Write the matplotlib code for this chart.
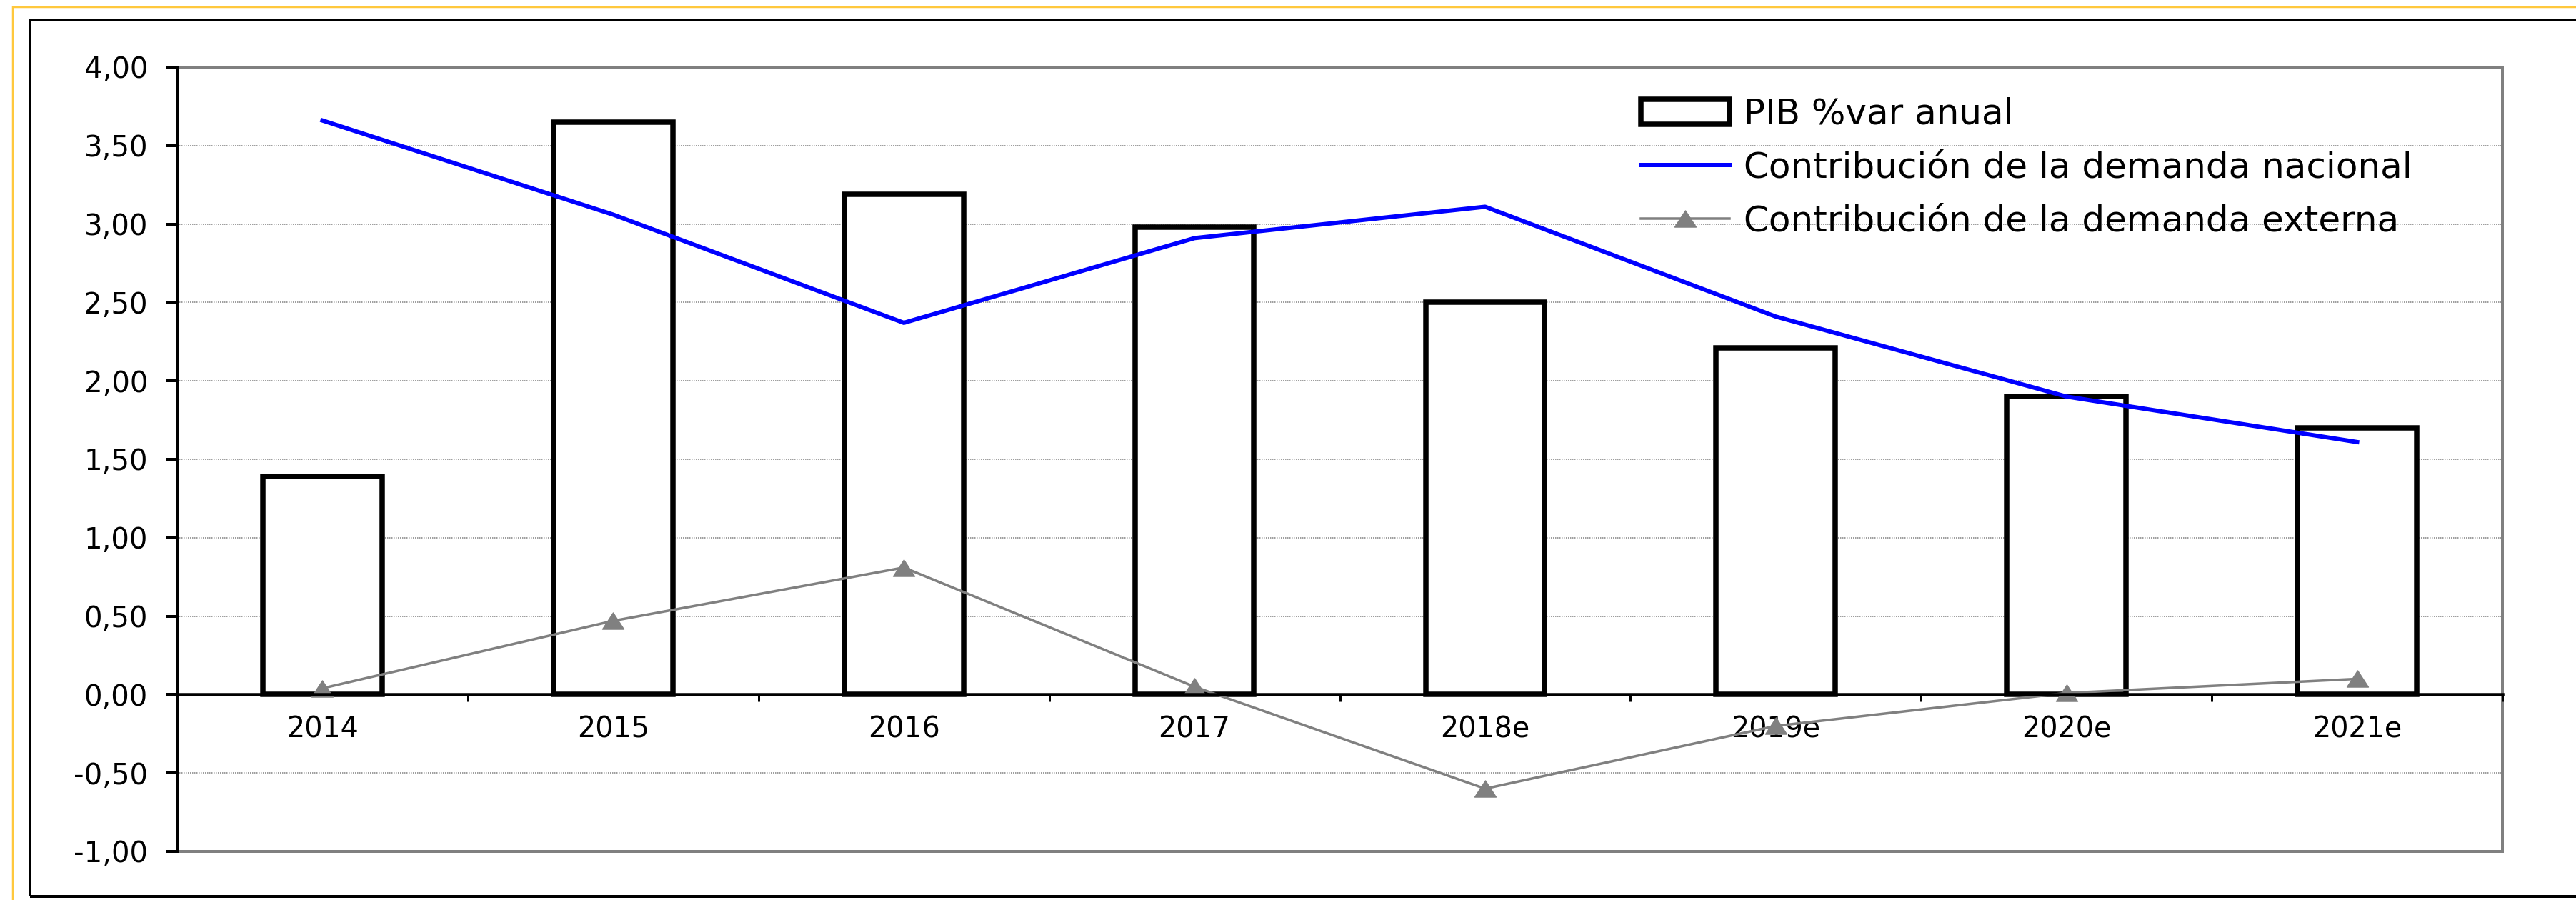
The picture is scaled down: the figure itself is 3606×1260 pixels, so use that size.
"""PIB y contribuciones de la demanda, 2014-2021e"""

import matplotlib
matplotlib.use("Agg")
import matplotlib.pyplot as plt
import numpy as np
from matplotlib.patches import Rectangle
from matplotlib.path import Path
from matplotlib.ticker import FixedLocator, FuncFormatter, MultipleLocator

years = ["2014", "2015", "2016", "2017", "2018e", "2019e", "2020e", "2021e"]
pib = [1.39, 3.65, 3.19, 2.98, 2.50, 2.21, 1.90, 1.70]
demanda_nacional = [3.66, 3.06, 2.37, 2.91, 3.11, 2.41, 1.90, 1.61]
demanda_externa = [0.04, 0.47, 0.81, 0.05, -0.60, -0.20, 0.01, 0.10]

W, H = 3606, 1260
PX = 0.72  # points per pixel at dpi 100

plt.rcParams["font.family"] = ["DejaVu Sans"]

fig = plt.figure(figsize=(W / 100, H / 100), dpi=100)

# outer frames (yellow + black), cut by the right/bottom image edge
fig.patches.append(Rectangle((18 / W, -0.1), 1.2, 1 - 10 / H + 0.1, transform=fig.transFigure,
                             fill=False, ec="#FFC83D", lw=2.5 * PX, zorder=0))
fig.patches.append(Rectangle((42 / W, 1 - 1255 / H), 1.2, (1255 - 28) / H, transform=fig.transFigure,
                             fill=False, ec="black", lw=4 * PX, zorder=0))

ax = fig.add_axes([248 / W, 1 - 1192 / H, (3503 - 248) / W, (1192 - 94) / H])
x = np.arange(len(years))

bars = ax.bar(x, pib, width=0.41, color="white", edgecolor="black", linewidth=7.5 * PX,
              label="PIB %var anual", zorder=3)
(nac,) = ax.plot(x, demanda_nacional, color="#0000FF", linewidth=6 * PX,
                 label="Contribución de la demanda nacional", zorder=4)

tri = Path([(-1.3, -1), (1.3, -1), (0, 1), (-1.3, -1)],
           [Path.MOVETO, Path.LINETO, Path.LINETO, Path.CLOSEPOLY])
(ext,) = ax.plot(x, demanda_externa, color="#808080", linewidth=3.5 * PX, marker=tri,
                 markersize=30 * PX, markerfacecolor="#808080", markeredgecolor="#808080",
                 label="Contribución de la demanda externa", zorder=5)

ax.set_xlim(-0.5, len(years) - 0.5)
ax.set_ylim(-1, 4)

# plot area border in gray
ax.add_patch(Rectangle((0, 0), 1, 1, transform=ax.transAxes, fill=False,
                       ec="#808080", lw=4 * PX, zorder=1, clip_on=False))
for s in ["top", "right"]:
    ax.spines[s].set_visible(False)
ax.spines["left"].set_linewidth(4 * PX)
ax.spines["left"].set_zorder(6)
ax.spines["bottom"].set_position(("data", 0))
ax.spines["bottom"].set_linewidth(4.5 * PX)
ax.spines["bottom"].set_zorder(6)

ax.yaxis.set_major_locator(MultipleLocator(0.5))
ax.yaxis.set_major_formatter(FuncFormatter(lambda v, p: f"{v:.2f}".replace(".", ",")))
ax.tick_params(axis="y", direction="out", length=16 * PX, width=4 * PX,
               pad=25 * PX, labelsize=29)
ax.grid(axis="y", color="#808080", linestyle=(0, (1, 1)), linewidth=1.5 * PX, zorder=0)

ax.set_xticks(x)
ax.set_xticklabels(years)
ax.xaxis.set_minor_locator(FixedLocator(np.arange(-0.5, len(years), 1.0)))
ax.tick_params(axis="x", which="major", length=0, pad=29 * PX, labelsize=28.5)
ax.tick_params(axis="x", which="minor", direction="out", length=10 * PX, width=3 * PX)

ax.legend([bars, nac, ext], [bars.get_label(), nac.get_label(), ext.get_label()],
          loc="upper left", bbox_to_anchor=(2272 / W, 1 - 111 / H),
          bbox_transform=fig.transFigure, frameon=False, fontsize=36,
          borderpad=0, handlelength=2.48, handletextpad=0.4, labelspacing=0.53)

fig.savefig("out.png", dpi=100)
